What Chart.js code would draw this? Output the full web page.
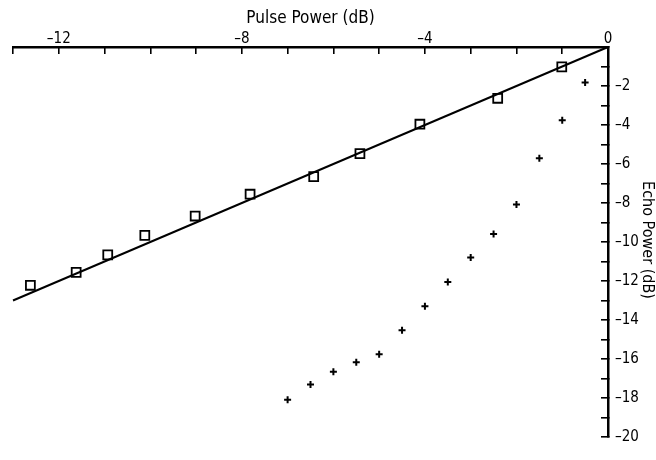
<!DOCTYPE html>
<html>
<head>
<meta charset="utf-8">
<script src="https://cdn.jsdelivr.net/npm/chart.js@4/dist/chart.umd.min.js"></script>
<style>
  html, body { margin: 0; padding: 0; background: #fff; }
  #wrap { width: 656px; height: 460px; }
</style>
</head>
<body>
<div id="wrap"><canvas id="c" width="656" height="460"></canvas></div>
<script>
// Data
const squarePulse = [-12.62, -11.62, -10.93, -10.12, -9.02, -7.82, -6.43, -5.42, -4.11, -2.41, -1.01];
const squareEcho  = [-12.22, -11.56, -10.66, -9.66, -8.67, -7.55, -6.65, -5.47, -3.96, -2.63, -1.02];
const plusPulse   = [-0.5, -1, -1.5, -2, -2.5, -3, -3.5, -4, -4.5, -5, -5.5, -6, -6.5, -7];
const plusEcho    = [-1.82, -3.76, -5.70, -8.08, -9.59, -10.79, -12.05, -13.29, -14.53, -15.75, -16.17, -16.65, -17.31, -18.09];
const fitPulse    = [-13, 0];
const fitEcho     = [-13, 0];
const xLabelled   = [-12, -8, -4, 0];
const yLabelled   = [-2, -4, -6, -8, -10, -12, -14, -16, -18, -20];
const xTitle = 'Pulse Power (dB)';
const yTitle = 'Echo Power (dB)';

const FONT = "'DejaVu Sans Condensed', 'Liberation Sans Narrow', 'DejaVu Sans', sans-serif";
const fmt = v => (v < 0 ? '\u2013' + Math.abs(v) : String(v));
const zip = (xs, ys) => xs.map((x, i) => ({ x: x, y: ys[i] }));

const yTitlePlugin = {
  id: 'yTitle',
  afterDraw(chart) {
    const ctx = chart.ctx;
    ctx.save();
    ctx.translate(647, 240);
    ctx.rotate(Math.PI / 2);
    ctx.font = '16px ' + FONT;
    ctx.fillStyle = '#000';
    ctx.textAlign = 'center';
    ctx.textBaseline = 'middle';
    ctx.fillText(yTitle, 0, 0);
    ctx.restore();
  }
};

new Chart(document.getElementById('c'), {
  type: 'scatter',
  data: {
    datasets: [
      {
        data: zip(fitPulse, fitEcho), showLine: true, pointRadius: 0,
        borderColor: '#000', borderWidth: 2, clip: false
      },
      {
        data: zip(squarePulse, squareEcho), pointStyle: 'rect', pointRadius: 6.3,
        borderColor: '#000', backgroundColor: '#fff', borderWidth: 1.8, clip: false
      },
      {
        data: zip(plusPulse, plusEcho), pointStyle: 'cross', pointRadius: 3.5,
        borderColor: '#000', borderWidth: 2, clip: false
      }
    ]
  },
  options: {
    responsive: false,
    animation: false,
    events: [],
    layout: { padding: { left: 13, right: 0, top: 0, bottom: 7 } },
    plugins: { legend: { display: false }, tooltip: { enabled: false } },
    scales: {
      x: {
        type: 'linear', position: 'top', min: -13, max: 0,
        afterFit: s => { s.height = 47; },
        ticks: {
          stepSize: 1, autoSkip: false, maxRotation: 0, padding: 6,
          color: '#000', font: { family: FONT, size: 15 },
          callback: v => (xLabelled.includes(v) ? fmt(v) : '')
        },
        grid: { drawOnChartArea: false, tickLength: -7, color: '#000', lineWidth: 1.6 },
        border: { display: true, color: '#000', width: 2.5 },
        title: {
          display: true, text: xTitle, color: '#000',
          font: { family: FONT, size: 17 }, padding: { top: 8, bottom: 0 }
        }
      },
      y: {
        type: 'linear', position: 'right', min: -20, max: 0,
        afterFit: s => { s.width = 48; },
        ticks: {
          stepSize: 1, autoSkip: false, padding: 14,
          color: '#000', font: { family: FONT, size: 15 },
          callback: v => (yLabelled.includes(v) ? fmt(v) : '')
        },
        grid: { drawOnChartArea: false, tickLength: -7, color: '#000', lineWidth: 1.6 },
        border: { display: true, color: '#000', width: 2.5 }
      }
    }
  },
  plugins: [yTitlePlugin]
});
</script>
</body>
</html>
